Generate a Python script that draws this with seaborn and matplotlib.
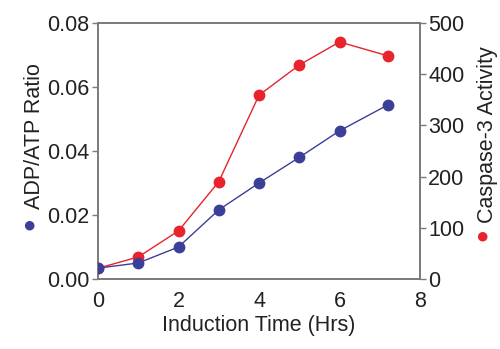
import matplotlib
matplotlib.use("Agg")
import matplotlib.pyplot as plt
import seaborn as sns
import pandas as pd

hours = [0, 1, 2, 3, 4, 5, 6, 7.2]
adp_atp_ratio = [0.0034, 0.005, 0.010, 0.0216, 0.030, 0.038, 0.0463, 0.0544]
caspase3_activity = [21, 43, 94, 190, 359, 418, 463, 436]

blue = "#3b3f98"
red = "#e8232c"
gray = "#7a7a7a"
txt = "#222222"
fs = 15.5

sns.set_theme(style="white")
plt.rcParams["font.family"] = ["Liberation Sans", "DejaVu Sans"]

df = pd.DataFrame({"hours": hours, "ratio": adp_atp_ratio, "caspase": caspase3_activity})

fig = plt.figure(figsize=(5.0, 3.49), dpi=100)
ax = fig.add_axes([0.196, 0.2006, 0.644, 0.7334])
ax2 = ax.twinx()

sns.lineplot(data=df, x="hours", y="caspase", ax=ax2, color=red, marker="o",
             markersize=8.5, markeredgewidth=0, linewidth=1.0, zorder=2)
sns.lineplot(data=df, x="hours", y="ratio", ax=ax, color=blue, marker="o",
             markersize=8.5, markeredgewidth=0, linewidth=1.0, zorder=3)

ax.set_xlim(0, 8)
ax.set_ylim(0, 0.08)
ax2.set_ylim(0, 500)
ax.set_xticks([0, 2, 4, 6, 8])
ax.set_yticks([0, 0.02, 0.04, 0.06, 0.08])
ax.set_yticklabels(["0.00", "0.02", "0.04", "0.06", "0.08"])
ax2.set_yticks([0, 100, 200, 300, 400, 500])

ax.set_xlabel("Induction Time (Hrs)", fontsize=fs, color=txt, labelpad=2)
ax.set_ylabel("")
ax2.set_ylabel("")

for a in (ax, ax2):
    for s in a.spines.values():
        s.set_color(gray)
        s.set_linewidth(1.2)
    a.tick_params(axis="both", labelsize=fs, colors=txt, length=4,
                  width=1.0, direction="out", pad=2)
    a.tick_params(axis="both", color=gray)
ax.tick_params(axis="x", pad=5)

ax.set_zorder(ax2.get_zorder() + 1)
ax.patch.set_visible(False)

fig.text(0.07, 0.61, "ADP/ATP Ratio", rotation=90, fontsize=fs,
         ha="center", va="center", color=txt)
fig.text(0.058, 0.352, "●", fontsize=16, color=blue, ha="center", va="center")
fig.text(0.974, 0.615, "Caspase-3 Activity", rotation=90, fontsize=fs,
         ha="center", va="center", color=txt)
fig.text(0.964, 0.322, "●", fontsize=16, color=red, ha="center", va="center")

fig.savefig("out.png", dpi=100)
